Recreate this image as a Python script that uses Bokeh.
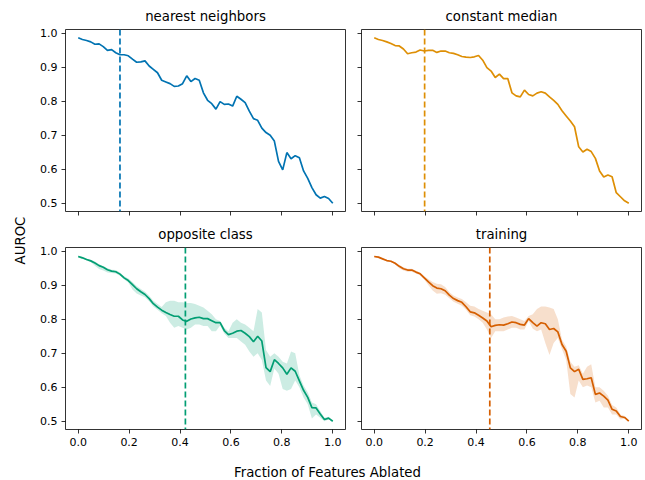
import numpy as np
from bokeh.plotting import figure
from bokeh.models import Range1d, FixedTicker, Span, PrintfTickFormatter
from bokeh.layouts import row, column
from bokeh.core.properties import value
from bokeh.embed import file_html
from bokeh.resources import INLINE

# ---------------- data ----------------
fraction = np.linspace(0.0, 1.0, 62)

titles = ["nearest neighbors", "constant median", "opposite class", "training"]
colors = ["#0173b2", "#de8f05", "#029e73", "#d55e00"]
cutoffs = [0.164, 0.198, 0.421, 0.454]

nearest_neighbors = [
    .987, .982, .979, .975, .968, .969, .961, .950, .952, .943,
    .937, .937, .934, .924, .915, .916, .919, .904, .894, .884,
    .862, .857, .852, .844, .845, .852, .875, .858, .867, .862,
    .825, .803, .793, .777, .799, .791, .792, .786, .815, .806,
    .796, .771, .749, .744, .721, .708, .700, .683, .623, .598,
    .649, .631, .640, .634, .595, .573, .546, .525, .515, .520,
    .514, .500]

constant_median = [
    .987, .982, .979, .975, .970, .964, .963, .954, .940, .943,
    .945, .951, .948, .950, .950, .944, .948, .948, .943, .941,
    .937, .932, .930, .929, .931, .935, .921, .899, .889, .870,
    .880, .867, .867, .825, .816, .813, .833, .820, .816, .824,
    .828, .824, .813, .803, .791, .772, .757, .742, .725, .666,
    .651, .659, .652, .632, .595, .577, .583, .578, .531, .519,
    .507, .500]

opposite_class = [
    .985, .981, .976, .972, .966, .958, .953, .946, .942, .940,
    .933, .922, .914, .902, .890, .881, .873, .861, .846, .836,
    .827, .820, .814, .809, .809, .798, .794, .801, .804, .806,
    .802, .802, .796, .790, .790, .767, .755, .759, .765, .767,
    .759, .749, .734, .750, .736, .658, .646, .681, .670, .657,
    .638, .657, .647, .619, .591, .570, .540, .539, .521, .505,
    .509, .500]
opposite_class_hi = [
    .988, .984, .979, .975, .970, .962, .957, .950, .946, .945,
    .938, .927, .920, .910, .898, .889, .881, .869, .855, .845,
    .836, .850, .855, .855, .850, .850, .848, .848, .845, .840,
    .835, .825, .815, .800, .795, .775, .765, .790, .800, .790,
    .785, .775, .765, .830, .820, .710, .690, .700, .690, .675,
    .670, .705, .700, .635, .605, .585, .555, .550, .530, .510,
    .513, .500]
opposite_class_lo = [
    .982, .978, .973, .969, .958, .948, .944, .938, .936, .935,
    .928, .917, .908, .888, .876, .870, .865, .853, .838, .828,
    .818, .810, .790, .775, .780, .775, .770, .775, .785, .785,
    .780, .780, .765, .765, .782, .758, .745, .745, .745, .735,
    .725, .705, .690, .700, .680, .620, .604, .655, .640, .595,
    .590, .595, .620, .600, .570, .550, .508, .520, .510, .500,
    .505, .500]

training = [
    .985, .983, .978, .973, .971, .965, .956, .949, .945, .945,
    .939, .934, .922, .910, .899, .892, .890, .884, .871, .861,
    .855, .850, .837, .822, .819, .812, .804, .795, .778, .782,
    .784, .783, .787, .792, .790, .785, .783, .802, .790, .780,
    .790, .787, .770, .773, .763, .726, .706, .657, .646, .653,
    .623, .625, .628, .579, .583, .574, .562, .535, .530, .514,
    .511, .500]
training_hi = [
    .987, .985, .980, .975, .973, .968, .960, .953, .949, .949,
    .943, .938, .927, .918, .910, .905, .903, .895, .880, .870,
    .864, .860, .850, .840, .838, .830, .825, .820, .815, .800,
    .800, .805, .808, .810, .805, .800, .795, .810, .815, .830,
    .838, .838, .835, .830, .800, .740, .720, .675, .660, .665,
    .640, .660, .668, .600, .600, .590, .575, .548, .540, .520,
    .515, .500]
training_lo = [
    .983, .981, .976, .971, .969, .962, .950, .944, .940, .940,
    .935, .930, .917, .900, .885, .875, .877, .872, .862, .852,
    .846, .840, .828, .812, .808, .800, .790, .770, .745, .765,
    .765, .765, .770, .775, .775, .770, .770, .795, .772, .765,
    .770, .730, .695, .730, .745, .712, .680, .580, .570, .620,
    .600, .605, .600, .555, .560, .540, .540, .520, .520, .505,
    .507, .500]

series = [nearest_neighbors, constant_median, opposite_class, training]
bands = [None, None, (opposite_class_lo, opposite_class_hi), (training_lo, training_hi)]

x_ticks = [0.0, 0.2, 0.4, 0.6, 0.8, 1.0]
y_ticks = [0.5, 0.6, 0.7, 0.8, 0.9, 1.0]

FONT = "DejaVu Sans"


def make_panel(i):
    left_col = i % 2 == 0
    top_row = i < 2
    b_left = 35 if left_col else 8
    b_right = 8 if left_col else 4
    b_top = 29 if top_row else 28
    b_bottom = 8 if top_row else 24
    w = b_left + 280 + b_right
    h = b_top + 182 + b_bottom
    p = figure(width=w, height=h, output_backend="svg", toolbar_location=None,
               x_range=Range1d(-0.05, 1.05), y_range=Range1d(0.4756, 1.0114),
               min_border_left=b_left, min_border_right=b_right,
               min_border_top=b_top, min_border_bottom=b_bottom,
               title=titles[i])
    p.title.align = "center"
    p.title.vertical_align = "middle"
    p.title.text_font = FONT
    p.title.text_font_size = "13.3px"
    p.title.text_font_style = "normal"
    p.title.text_color = "black"
    p.title.standoff = 10
    p.grid.visible = False
    p.outline_line_color = "black"
    p.outline_line_width = 0.8
    p.background_fill_color = "white"
    p.border_fill_color = "white"

    for ax, ticks, show in ((p.xaxis[0], x_ticks, not top_row), (p.yaxis[0], y_ticks, left_col)):
        ax.ticker = FixedTicker(ticks=ticks)
        ax.formatter = PrintfTickFormatter(format="%.1f")
        ax.axis_line_color = None
        ax.major_tick_in = 0
        ax.major_tick_out = 4
        ax.minor_tick_line_color = None
        ax.major_tick_line_color = "black"
        ax.major_tick_line_width = 0.8
        ax.major_label_text_font = FONT
        if show:
            ax.major_label_text_color = "black"
            ax.major_label_text_font_size = "11px"
            ax.major_label_standoff = 4
        else:
            ax.major_label_text_color = None
            ax.major_label_text_font_size = "0px"
            ax.major_label_standoff = 0

    c = colors[i]
    if bands[i] is not None:
        lo, hi = bands[i]
        p.varea(x=fraction, y1=lo, y2=hi, fill_color=c, fill_alpha=0.2)
    p.line(x=fraction, y=series[i], line_color=c, line_width=1.7)
    p.add_layout(Span(location=cutoffs[i], dimension="height", line_color=c,
                      line_width=1.7, line_dash="6 3"))
    return p


panels = [make_panel(i) for i in range(4)]

grid_h = panels[0].height + panels[2].height

ylab = figure(width=30, height=grid_h, output_backend="svg", toolbar_location=None,
              x_range=Range1d(0, 30), y_range=Range1d(0, grid_h),
              x_axis_type=None, y_axis_type=None,
              min_border=0, min_border_left=0, min_border_right=0,
              min_border_top=0, min_border_bottom=0)
ylab.grid.visible = False
ylab.outline_line_color = None
ylab.text(x=[20], y=[grid_h - 240], text=["AUROC"], angle=np.pi / 2,
          text_align="center", text_baseline="middle",
          text_font=value(FONT), text_font_size="13.3px", text_color="black")

xlab_h = 480 - grid_h
xlab = figure(width=645, height=xlab_h, output_backend="svg", toolbar_location=None,
              x_range=Range1d(0, 645), y_range=Range1d(0, xlab_h),
              x_axis_type=None, y_axis_type=None,
              min_border=0, min_border_left=0, min_border_right=0,
              min_border_top=0, min_border_bottom=0)
xlab.grid.visible = False
xlab.outline_line_color = None
xlab.text(x=[327], y=[xlab_h - 19], text=["Fraction of Features Ablated"],
          text_align="center", text_baseline="middle",
          text_font=value(FONT), text_font_size="13.3px", text_color="black")

layout = column(
    row(ylab, column(row(panels[0], panels[1]), row(panels[2], panels[3]))),
    xlab,
)

open("out.html", "w").write(file_html(layout, INLINE))
